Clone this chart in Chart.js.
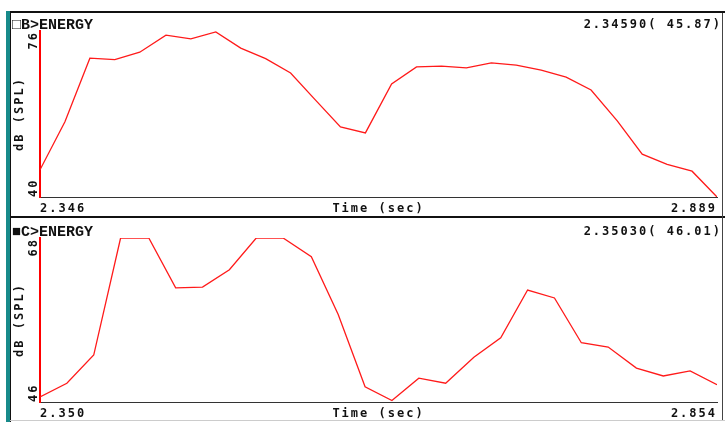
<!DOCTYPE html>
<html>
<head>
<meta charset="utf-8">
<script src="https://cdn.jsdelivr.net/npm/chart.js@4.4.0/dist/chart.umd.min.js"></script>
<style>
  html, body { margin: 0; padding: 0; background: #fff; }
  #screen { position: relative; width: 725px; height: 422px; overflow: hidden; background: #fff; }
  .rule { position: absolute; }
  canvas { position: absolute; }
</style>
</head>
<body>
<div id="screen">
  <div class="rule" style="left:6px;top:11px;width:4px;height:411px;background:#178a8a"></div>
  <div class="rule" style="left:10px;top:11px;width:1px;height:411px;background:#111"></div>
  <div class="rule" style="left:10px;top:11px;width:715px;height:2px;background:#111"></div>
  <div class="rule" style="left:10px;top:216px;width:715px;height:2px;background:#111"></div>
  <div class="rule" style="left:722px;top:13px;width:1px;height:407px;background:#444"></div>
  <div class="rule" style="left:10px;top:420px;width:715px;height:1px;background:#ccc"></div>
  <canvas id="chart-b" width="711" height="203" style="left:11px;top:13px"></canvas>
  <canvas id="chart-c" width="711" height="202" style="left:11px;top:218px"></canvas>
</div>
<script>
// panel B
const bTimes = [2.346, 2.366, 2.386, 2.406, 2.426, 2.447, 2.467, 2.487, 2.507, 2.527,
  2.547, 2.567, 2.587, 2.607, 2.628, 2.648, 2.668, 2.688, 2.708, 2.728,
  2.748, 2.768, 2.788, 2.809, 2.829, 2.849, 2.869, 2.889];
const bLevels = [45.9, 56.3, 70.1, 69.8, 71.4, 75.1, 74.3, 75.8, 72.3, 70.0,
  66.9, 61.0, 55.2, 53.9, 64.5, 68.2, 68.4, 68.0, 69.1, 68.6,
  67.5, 66.0, 63.2, 56.5, 49.3, 47.1, 45.6, 40.0];
const bYRange = [40, 76];
const bYLabels = ["40", "76"];
const bXLabels = ["2.346", "Time (sec)", "2.889"];
const bTitle = "\u25A1B>ENERGY";
const bReadout = "2.34590( 45.87)";

// panel C
const cTimes = [2.350, 2.370, 2.390, 2.410, 2.431, 2.451, 2.471, 2.491, 2.511, 2.531,
  2.552, 2.572, 2.592, 2.612, 2.632, 2.652, 2.673, 2.693, 2.713, 2.733,
  2.753, 2.773, 2.794, 2.814, 2.834, 2.854];
const cLevels = [46.0, 47.9, 51.8, 68.0, 68.0, 61.1, 61.2, 63.6, 68.0, 68.0,
  65.4, 57.4, 47.4, 45.5, 48.6, 47.9, 51.5, 54.2, 60.8, 59.7,
  53.5, 52.9, 50.0, 48.9, 49.6, 47.7];
const cYRange = [45.3, 68];
const cYLabels = ["46", "68"];
const cXLabels = ["2.350", "Time (sec)", "2.854"];
const cTitle = "\u25A0C>ENERGY";
const cReadout = "2.35030( 46.01)";

const SMALL_FONT = { family: "DejaVu Sans Mono", size: 12, weight: "bold" };
const TITLE_FONT = 'bold 15px "Liberation Mono", "DejaVu Sans Mono", monospace';
const INK = "#111";

// title, readout and the rotated end labels of the y axis
const panelText = {
  id: "panelText",
  beforeDraw(chart) {
    chart.ctx.letterSpacing = "2px";
  },
  afterDraw(chart, args, opts) {
    const ctx = chart.ctx;
    const y = chart.scales.y;
    ctx.save();
    ctx.fillStyle = INK;
    ctx.font = "bold 12px 'DejaVu Sans Mono'";
    ctx.letterSpacing = "2px";
    ctx.textBaseline = "middle";
    [[y.min, "left"], [y.max, "right"]].forEach(([v, align], i) => {
      ctx.save();
      ctx.translate(opts.labelX, y.getPixelForValue(v));
      ctx.rotate(-Math.PI / 2);
      ctx.textAlign = align;
      ctx.fillText(opts.yLabels[i], 0, 0);
      ctx.restore();
    });
    ctx.textBaseline = "alphabetic";
    ctx.textAlign = "right";
    ctx.fillText(opts.readout, chart.width, opts.baseline);
    ctx.letterSpacing = "0px";
    ctx.font = TITLE_FONT;
    ctx.textAlign = "left";
    ctx.fillText(opts.title, 1, opts.baseline + 1);
    ctx.restore();
  }
};

function makePanel(id, times, levels, yRange, yLabels, xLabels, title, readout, padTop, xHeight, baseline) {
  const ctx = document.getElementById(id);
  return new Chart(ctx, {
    type: "line",
    data: {
      datasets: [{
        data: times.map((t, i) => ({ x: t, y: levels[i] })),
        borderColor: "#ff1a1a",
        borderWidth: 1.3,
        pointRadius: 0,
        tension: 0,
        fill: false,
      }],
    },
    options: {
      responsive: false,
      animation: false,
      events: [],
      layout: { padding: { top: padTop, right: 4, left: 0, bottom: 0 } },
      plugins: {
        legend: { display: false },
        tooltip: { enabled: false },
        panelText: { yLabels, title, readout, baseline, labelX: 22.5 },
      },
      scales: {
        x: {
          type: "linear",
          min: times[0],
          max: times[times.length - 1],
          grid: { display: false, drawTicks: false },
          border: { color: "#333", width: 1 },
          afterFit: (s) => { s.height = xHeight; },
          afterBuildTicks: (s) => {
            s.ticks = [{ value: s.min }, { value: (s.min + s.max) / 2 }, { value: s.max }];
          },
          ticks: {
            color: INK,
            font: SMALL_FONT,
            padding: 5,
            align: "inner",
            autoSkip: false,
            maxRotation: 0,
            callback: (v, i) => xLabels[i],
          },
        },
        y: {
          min: yRange[0],
          max: yRange[1],
          grid: { display: false, drawTicks: false },
          border: { color: "#ff0000", width: 2 },
          afterFit: (s) => { s.width = 29; },
          ticks: { display: false },
          title: {
            display: true,
            text: "dB (SPL)",
            color: INK,
            font: SMALL_FONT,
            padding: { top: 2, bottom: 0 },
          },
        },
      },
    },
    plugins: [panelText],
  });
}

makePanel("chart-b", bTimes, bLevels, bYRange, bYLabels, bXLabels, bTitle, bReadout, 18, 19, 15);
makePanel("chart-c", cTimes, cLevels, cYRange, cYLabels, cXLabels, cTitle, cReadout, 20, 18, 17);
</script>
</body>
</html>
